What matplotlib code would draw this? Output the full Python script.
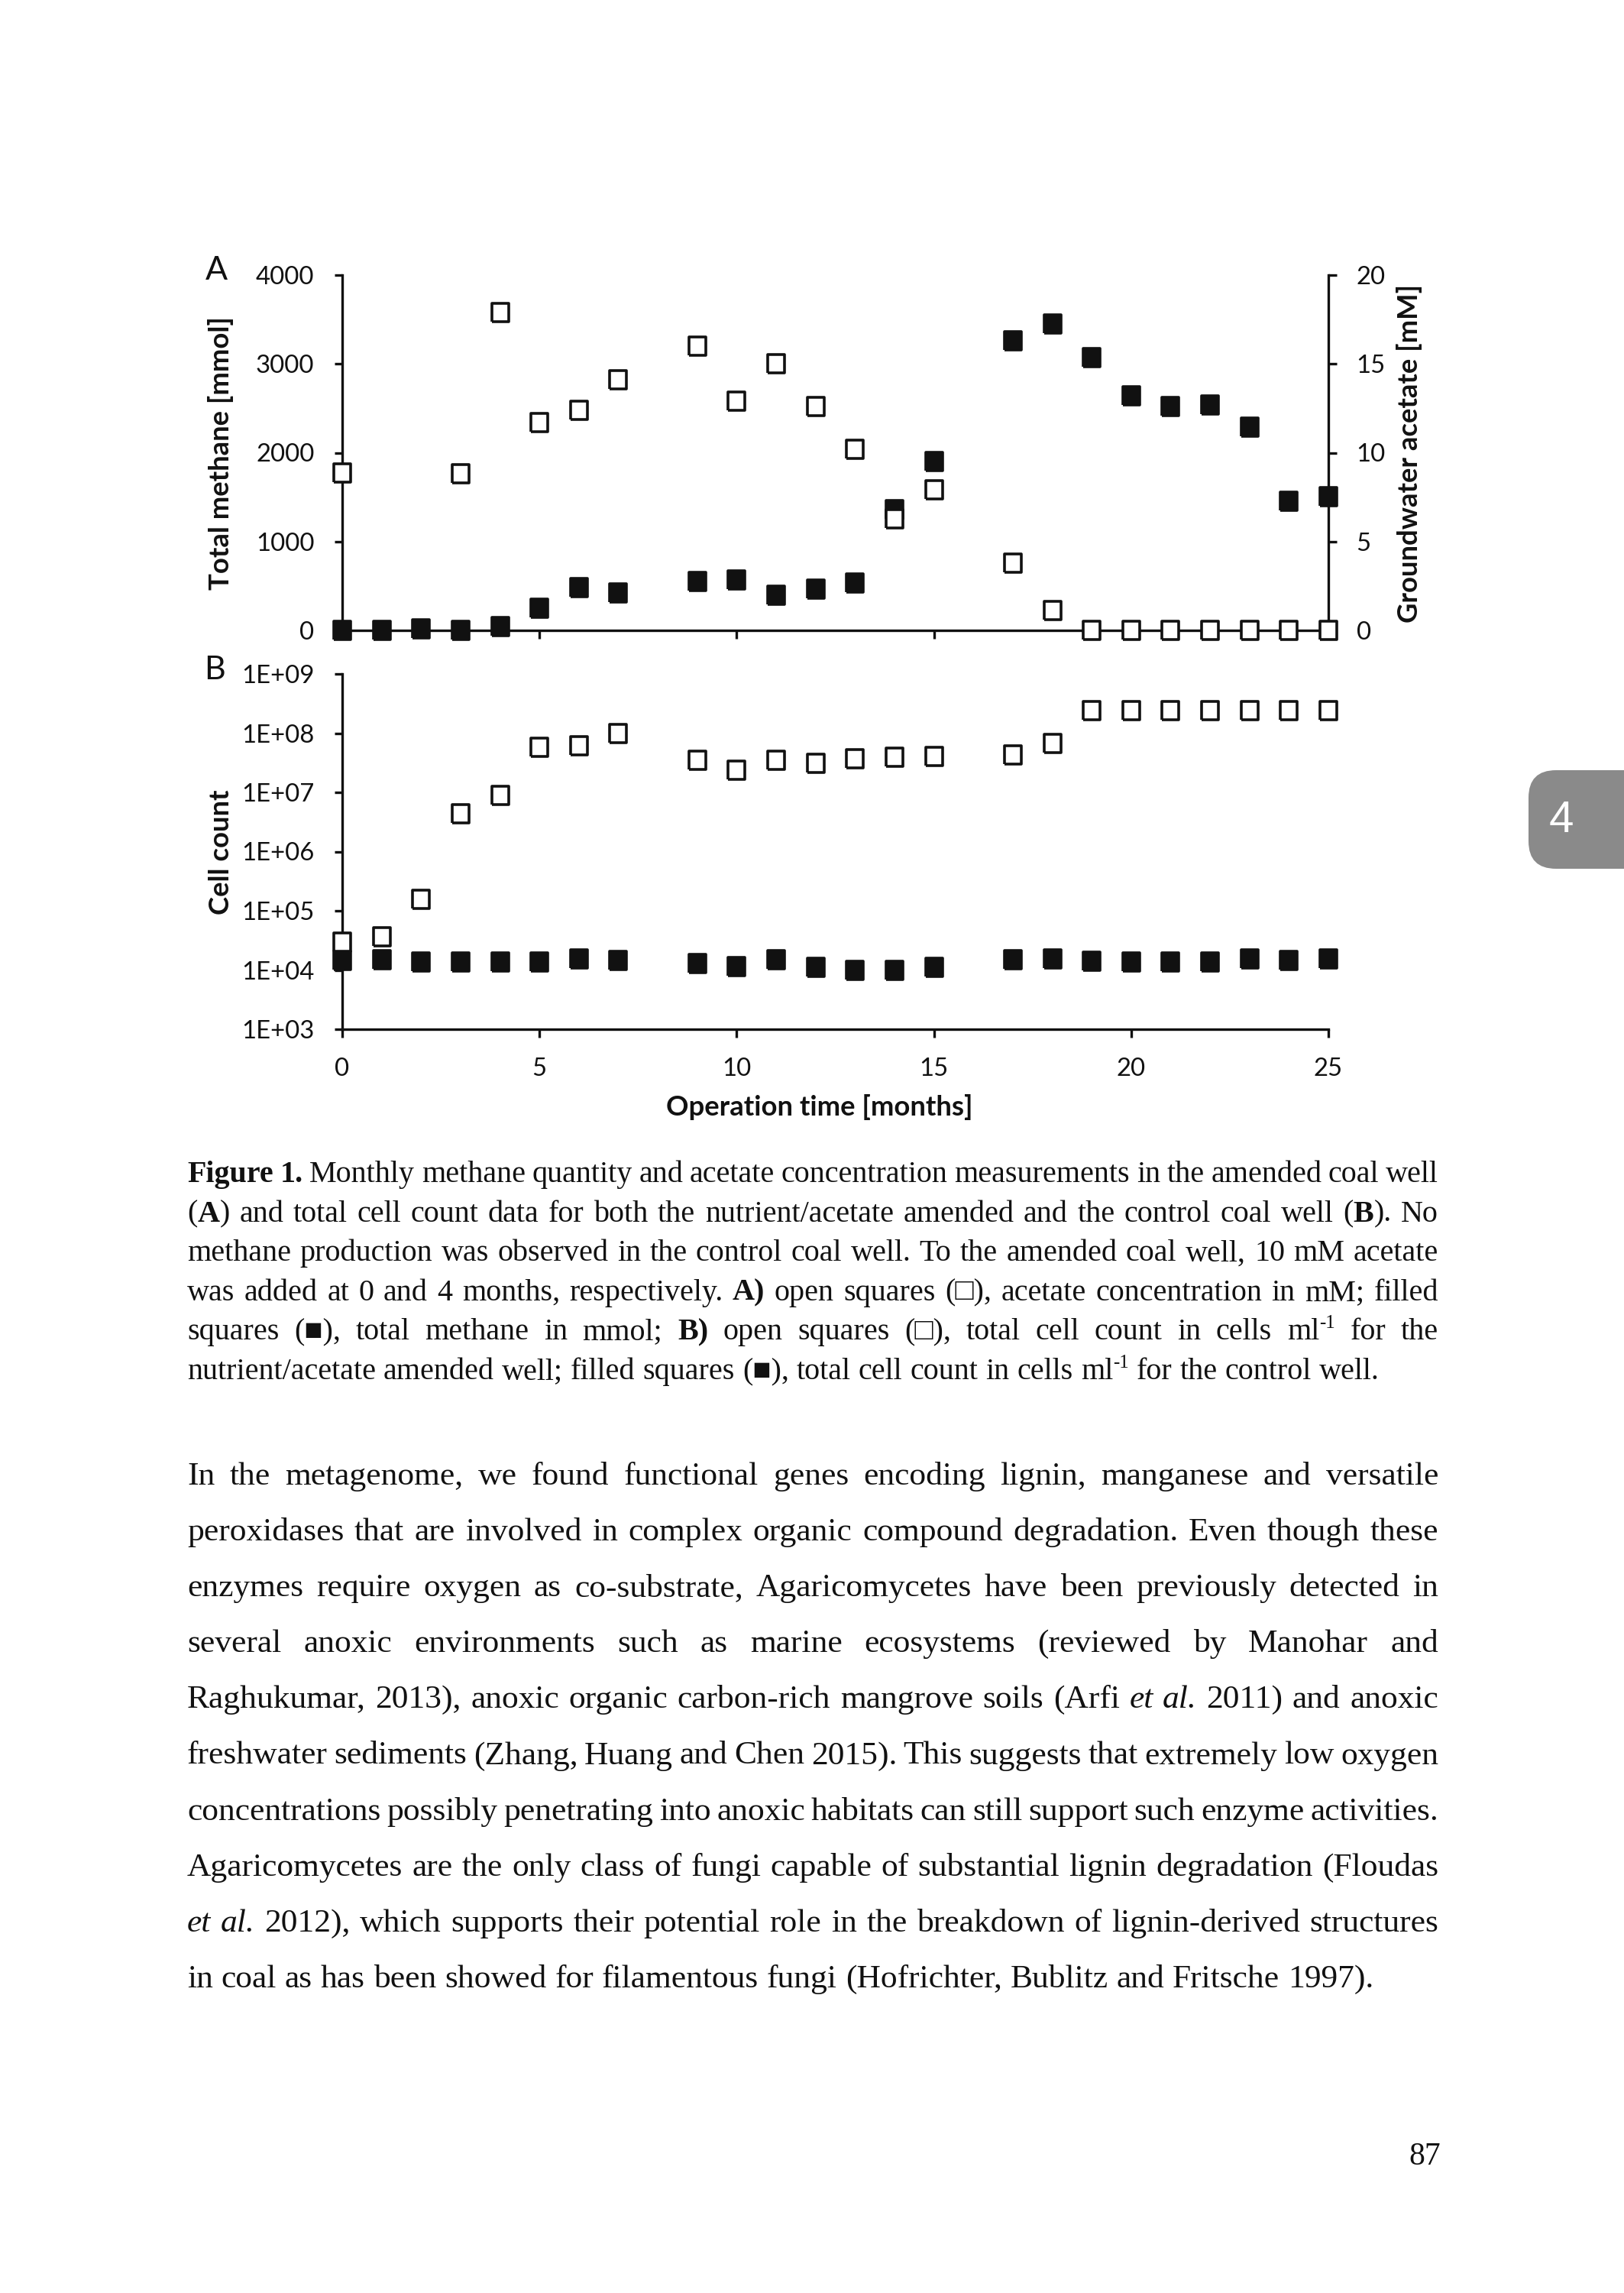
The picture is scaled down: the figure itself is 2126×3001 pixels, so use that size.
import re
import matplotlib
matplotlib.use("Agg")
import matplotlib.pyplot as plt
from matplotlib.transforms import IdentityTransform
from matplotlib.patches import FancyBboxPatch
from matplotlib.ticker import NullLocator

# ---------------- data ----------------
methane_months = [0, 1, 2, 3, 4, 5, 6, 7, 9, 10, 11, 12, 13, 14, 15,
                  17, 18, 19, 20, 21, 22, 23, 24, 25]
methane_mmol = [0, 0, 20, 0, 46, 246, 479, 420, 553, 571, 399, 464, 531, 1355, 1900,
                3263, 3447, 3073, 2640, 2517, 2536, 2290, 1458, 1504]

acetate_months = [0, 3, 4, 5, 6, 7, 9, 10, 11, 12, 13, 14, 15,
                  17, 18, 19, 20, 21, 22, 23, 24, 25]
acetate_mM = [8.87, 8.83, 17.9, 11.7, 12.4, 14.1, 16.0, 12.9, 15.0, 12.6, 10.2, 6.3, 7.9,
              3.8, 1.1, 0, 0, 0, 0, 0, 0, 0]

cell_months = [0, 1, 2, 3, 4, 5, 6, 7, 9, 10, 11, 12, 13, 14, 15,
               17, 18, 19, 20, 21, 22, 23, 24, 25]
cells_amended = [3.0e4, 3.6e4, 1.56e5, 4.3e6, 9.0e6, 5.8e7, 6.1e7, 1.0e8, 3.5e7, 2.4e7,
                 3.5e7, 3.1e7, 3.7e7, 3.9e7, 4.0e7, 4.3e7, 6.6e7,
                 2.4e8, 2.4e8, 2.4e8, 2.4e8, 2.4e8, 2.4e8, 2.4e8]
cells_control = [1.45e4, 1.5e4, 1.35e4, 1.35e4, 1.35e4, 1.35e4, 1.56e4, 1.45e4, 1.28e4,
                 1.15e4, 1.5e4, 1.12e4, 1.0e4, 1.0e4, 1.12e4, 1.5e4, 1.55e4, 1.4e4,
                 1.35e4, 1.35e4, 1.35e4, 1.56e4, 1.45e4, 1.56e4]

x_ticks = [0, 5, 10, 15, 20, 25]
methane_ticks = [0, 1000, 2000, 3000, 4000]
acetate_ticks = [0, 5, 10, 15, 20]
cell_ticks = [1e3, 1e4, 1e5, 1e6, 1e7, 1e8, 1e9]
cell_tick_labels = ["1E+03", "1E+04", "1E+05", "1E+06", "1E+07", "1E+08", "1E+09"]

label_methane = "Total methane [mmol]"
label_acetate = "Groundwater acetate [mM]"
label_cells = "Cell count"
label_time = "Operation time [months]"

caption_lines = [
    "**Figure** **1.** Monthly methane quantity and acetate concentration measurements in the amended coal well",
    "(**A**) and total cell count data for both the nutrient/acetate amended and the control coal well (**B**). No",
    "methane production was observed in the control coal well. To the amended coal well, 10 mM acetate",
    "was added at 0 and 4 months, respectively. **A)** open squares (\u25a1), acetate concentration in mM; filled",
    "squares (\u25a0), total methane in mmol; **B)** open squares (\u25a1), total cell count in cells ml^-1^ for the",
    "nutrient/acetate amended well; filled squares (\u25a0), total cell count in cells ml^-1^ for the control well.",
]

body_lines = [
    "In the metagenome, we found functional genes encoding lignin, manganese and versatile",
    "peroxidases that are involved in complex organic compound degradation. Even though these",
    "enzymes require oxygen as co-substrate, Agaricomycetes have been previously detected in",
    "several anoxic environments such as marine ecosystems (reviewed by Manohar and",
    "Raghukumar, 2013), anoxic organic carbon-rich mangrove soils (Arfi *et* *al.* 2011) and anoxic",
    "freshwater sediments (Zhang, Huang and Chen 2015). This suggests that extremely low oxygen",
    "concentrations possibly penetrating into anoxic habitats can still support such enzyme activities.",
    "Agaricomycetes are the only class of fungi capable of substantial lignin degradation (Floudas",
    "*et* *al.* 2012), which supports their potential role in the breakdown of lignin-derived structures",
    "in coal as has been showed for filamentous fungi (Hofrichter, Bublitz and Fritsche 1997).",
]

page_number = "87"
chapter_tab = "4"

# ---------------- figure setup ----------------
W, H = 2126, 3001
DPI = 200
PX = DPI / 72.0  # pixels per point
SANS = "Lato"
SERIF = ["Liberation Serif", "DejaVu Sans"]
plt.rcParams["font.family"] = [SANS, "DejaVu Sans"]

fig = plt.figure(figsize=(W / DPI, H / DPI), dpi=DPI, facecolor="white")
renderer = fig.canvas.get_renderer()
ID = IdentityTransform()


def axes_px(x0, y0, x1, y1):
    return fig.add_axes([x0 / W, 1 - y1 / H, (x1 - x0) / W, (y1 - y0) / H])


def text_width(s, size, **kw):
    t = fig.text(0, 0, s, fontsize=size, **kw)
    w = t.get_window_extent(renderer).width
    t.remove()
    return w


def fit(s, target, **kw):
    return 20 * target / text_width(s, 20, **kw)


K = "#111111"
LW = 1.2
TL = 10.5 / PX
PAD = 26 / PX

tick_fs = fit("4000", 76, family=SANS)

axA = axes_px(448, 360, 1739, 825)
axB = axes_px(448, 882, 1739, 1347)

sq = [(-0.44, -0.5), (0.44, -0.5), (0.44, 0.5), (-0.44, 0.5), (-0.44, -0.5)]
MS = 8.7
MEW = 1.3

# ---- panel A ----
axA.plot(methane_months, methane_mmol, linestyle="none", marker=sq, ms=MS,
         mfc=K, mec=K, mew=MEW, clip_on=False, zorder=4)
axA2 = axA.twinx()
axA2.plot(acetate_months, acetate_mM, linestyle="none", marker=sq, ms=MS,
          mfc="white", mec=K, mew=MEW, clip_on=False, zorder=5)
axA.set_xlim(0, 25)
axA.set_ylim(0, 4000)
axA2.set_ylim(0, 20)
axA.set_xticks(x_ticks)
axA.set_xticklabels([])
axA.set_yticks(methane_ticks)
axA.set_yticklabels([str(v) for v in methane_ticks])
axA2.set_yticks(acetate_ticks)
axA2.set_yticklabels([str(v) for v in acetate_ticks])
for s in ["top", "right"]:
    axA.spines[s].set_visible(False)
for s in ["top", "left", "bottom"]:
    axA2.spines[s].set_visible(False)
for ax in (axA, axA2, axB):
    for sp in ax.spines.values():
        sp.set_linewidth(LW)
        sp.set_color(K)
    ax.tick_params(direction="out", length=TL, width=LW, pad=PAD,
                   labelsize=tick_fs, colors=K)
    ax.set_facecolor("none")

# ---- panel B ----
axB.plot(cell_months, cells_control, linestyle="none", marker=sq, ms=MS,
         mfc=K, mec=K, mew=MEW, clip_on=False, zorder=4)
axB.plot(cell_months, cells_amended, linestyle="none", marker=sq, ms=MS,
         mfc="white", mec=K, mew=MEW, clip_on=False, zorder=5)
axB.set_yscale("log")
axB.set_xlim(0, 25)
axB.set_ylim(1e3, 1e9)
axB.set_yticks(cell_ticks)
axB.set_yticklabels(cell_tick_labels)
axB.yaxis.set_minor_locator(NullLocator())
axB.set_xticks(x_ticks)
axB.set_xticklabels([str(v) for v in x_ticks])
for s in ["top", "right"]:
    axB.spines[s].set_visible(False)


def ftext(x, y, s, **kw):
    return fig.text(x, H - y, s, transform=ID, **kw)


lab_fs = (fit(label_methane, 364, family=SANS, weight="bold") +
          fit(label_acetate, 437, family=SANS, weight="bold")) / 2
ftext(289, 593, label_methane, rotation=90, ha="center", va="center",
      fontsize=lab_fs, weight="bold", color=K)
ftext(1845, 593, label_acetate, rotation=90, ha="center", va="center",
      fontsize=lab_fs, weight="bold", color=K)
ftext(289, 1115, label_cells, rotation=90, ha="center", va="center",
      fontsize=lab_fs, weight="bold", color=K)
ftext(1073, 1449, label_time, ha="center", va="center",
      fontsize=lab_fs, weight="bold", color=K)
ftext(283, 354, "A", ha="center", va="center", fontsize=15.5, color=K)
ftext(281, 877, "B", ha="center", va="center", fontsize=15.5, color=K)

# ---------------- justified text ----------------
RUN_RE = re.compile(r"(\*\*[^*]+\*\*|\*[^*]+\*|\^[^^]+\^)")


def parse_word(w):
    runs = []
    for part in RUN_RE.split(w):
        if not part:
            continue
        if part.startswith("**"):
            runs.append((part[2:-2], "bold"))
        elif part.startswith("*"):
            runs.append((part[1:-1], "italic"))
        elif part.startswith("^"):
            runs.append((part[1:-1], "sup"))
        else:
            runs.append((part, "normal"))
    return runs


def run_kw(style, size):
    kw = dict(family=SERIF, fontsize=size, color="#111111")
    if style == "bold":
        kw["weight"] = "bold"
    elif style == "italic":
        kw["style"] = "italic"
    elif style == "sup":
        kw["fontsize"] = size * 0.62
    return kw


def run_width(t, st, size):
    kw = run_kw(st, size)
    fs = kw.pop("fontsize")
    return text_width(t, fs, **kw)


def word_width(runs, size):
    return sum(run_width(t, st, size) for t, st in runs)


def space_width(size):
    return (text_width("a a", size, family=SERIF) -
            text_width("aa", size, family=SERIF))


def natural_width(line, size):
    words = [parse_word(w) for w in line.split(" ")]
    return sum(word_width(w, size) for w in words) + (len(words) - 1) * space_width(size)


def fit_paragraph(lines, target):
    base = 20.0
    mx = max(natural_width(l, base) for l in lines[:-1])
    return base * target / mx


def draw_paragraph(lines, x0, x1, y0, dy, size):
    sp = space_width(size)
    for i, line in enumerate(lines):
        words = [parse_word(w) for w in line.split(" ")]
        widths = [word_width(w, size) for w in words]
        last = i == len(lines) - 1
        if last or len(words) < 2:
            gap = sp
        else:
            gap = (x1 - x0 - sum(widths)) / (len(words) - 1)
        x = x0
        yb = H - (y0 + i * dy)
        for w, ww in zip(words, widths):
            xx = x
            for t, st in w:
                kw = run_kw(st, size)
                rise = size * PX * 0.38 if st == "sup" else 0
                txt = fig.text(xx, yb + rise, t, transform=ID, ha="left",
                               va="baseline", **kw)
                xx += txt.get_window_extent(renderer).width
            x += ww + gap


TEXT_L, TEXT_R = 245, 1883
cap_fs = fit_paragraph(caption_lines, (TEXT_R - TEXT_L) * 0.99) * 1.021
draw_paragraph(caption_lines, TEXT_L, TEXT_R, 1547, 51.6, cap_fs)
body_fs = fit_paragraph(body_lines, (TEXT_R - TEXT_L) * 0.99) * 1.029
draw_paragraph(body_lines, TEXT_L, TEXT_R, 1943, 73.1, body_fs)

# page number
ftext(1886, 2833, page_number, ha="right", va="baseline", family=SERIF,
      fontsize=15, color="#111111")

# chapter tab
tab = FancyBboxPatch((2001, H - 1137), 220, 129,
                     boxstyle="round,pad=0,rounding_size=36",
                     transform=ID, fc="#8a8a8a", ec="none")
fig.add_artist(tab)
ftext(2044, 1089, chapter_tab, ha="center", va="baseline", color="white",
      family="Liberation Sans", fontsize=21)

fig.savefig("out.png", dpi=DPI, facecolor="white")
